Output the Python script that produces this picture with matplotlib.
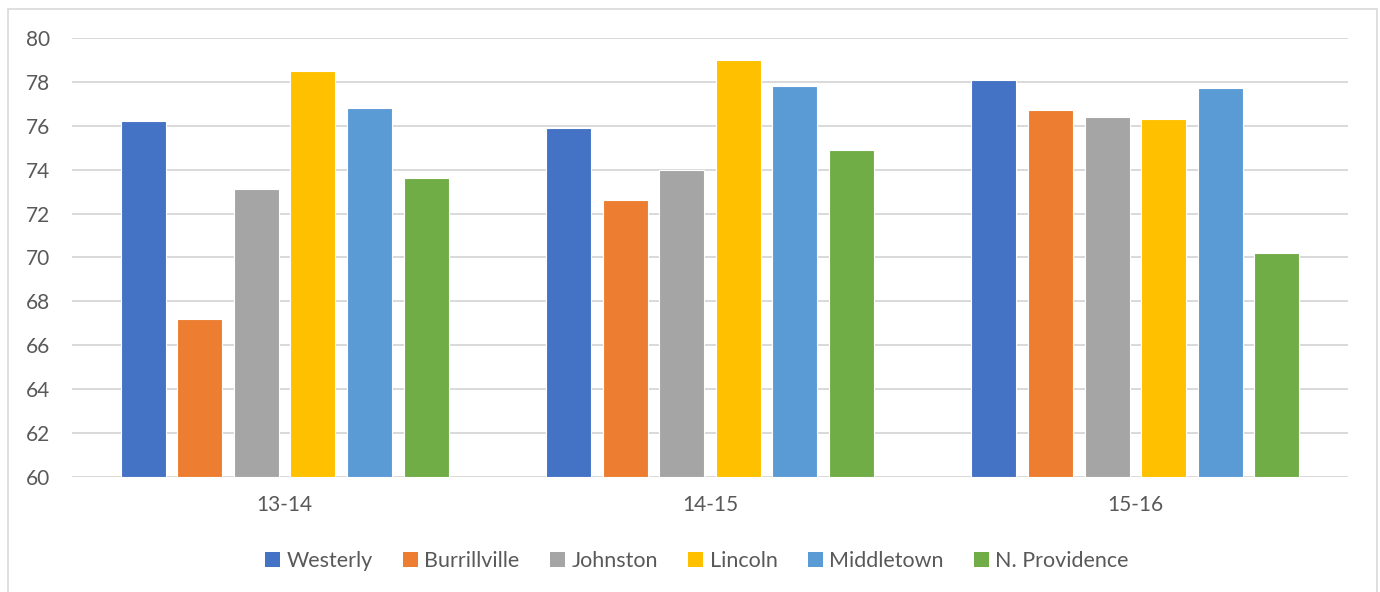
import numpy as np
import matplotlib
matplotlib.use("Agg")
import matplotlib.pyplot as plt
from matplotlib.patches import Patch, Rectangle

# school years and towns
years = ["13-14", "14-15", "15-16"]
towns = ["Westerly", "Burrillville", "Johnston", "Lincoln", "Middletown", "N. Providence"]

westerly = [76.2, 75.9, 78.1]
burrillville = [67.2, 72.6, 76.7]
johnston = [73.1, 74.0, 76.4]
lincoln = [78.5, 79.0, 76.3]
middletown = [76.8, 77.8, 77.7]
n_providence = [73.6, 74.9, 70.2]

series = [westerly, burrillville, johnston, lincoln, middletown, n_providence]
colors = ["#4472C4", "#ED7D31", "#A5A5A5", "#FFC000", "#5B9BD5", "#70AD47"]

text_color = "#595959"
grid_color = "#D9D9D9"
plt.rcParams["font.family"] = ["Lato", "DejaVu Sans"]

fig = plt.figure(figsize=(13.8, 5.92), dpi=100)
ax = fig.add_axes([72 / 1380, 1 - 477 / 592, 1276 / 1380, 439 / 592])

x = np.arange(len(years))
pitch = 0.133
width = 0.106
for j, (vals, c) in enumerate(zip(series, colors)):
    ax.bar(x + (j - 2.5) * pitch, np.array(vals) - 60, bottom=60, width=width,
           color=c, edgecolor="white", linewidth=0.8, zorder=3)

ax.set_xlim(-0.5, 2.5)
ax.set_ylim(60, 80)
ax.set_yticks(np.arange(60, 81, 2))
ax.set_xticks(x)
ax.set_xticklabels(years)
ax.grid(axis="y", color=grid_color, linewidth=1.4, zorder=0)
ax.set_axisbelow(True)
for s in ax.spines.values():
    s.set_visible(False)
ax.tick_params(axis="both", length=0, labelsize=15, labelcolor=text_color)
ax.tick_params(axis="y", pad=16)
ax.tick_params(axis="x", pad=13)

handles = [Patch(facecolor=c, edgecolor="none") for c in colors]
fig.legend(handles, towns, loc="center", bbox_to_anchor=(0.505, 0.052), ncol=6,
           frameon=False, fontsize=15.5, labelcolor=text_color,
           handlelength=0.7, handleheight=0.7, handletextpad=0.3,
           columnspacing=1.4)

# light frame around the chart area
fig.patches.append(Rectangle((8 / 1380, -0.05), 1369 / 1380, 1.05 - 9 / 592,
                             transform=fig.transFigure, fill=False,
                             edgecolor=grid_color, linewidth=1.2))

fig.savefig("out.png", dpi=100)
